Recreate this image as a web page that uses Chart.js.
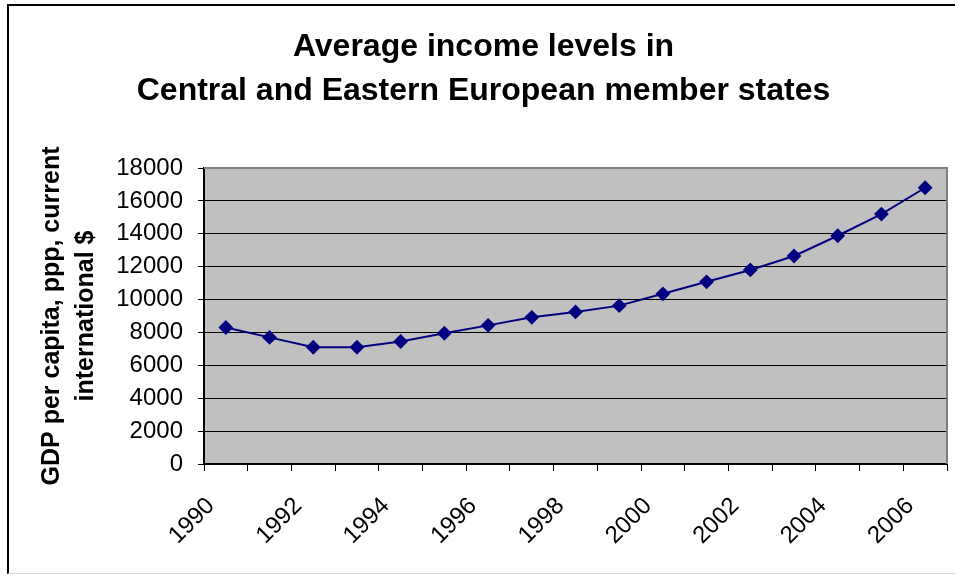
<!DOCTYPE html>
<html>
<head>
<meta charset="utf-8">
<script src="https://cdn.jsdelivr.net/npm/chart.js@4"></script>
<style>
  html, body { margin: 0; padding: 0; background: #fff; }
  #wrap { position: relative; width: 955px; height: 576px; }
  #frame { position: absolute; left: 7px; top: 4px; width: 960px; height: 570px;
           border-left: 2px solid #000; border-top: 2px solid #000; border-bottom: 1px solid #d8d8d8; box-sizing: border-box; }
  canvas { position: absolute; left: 0; top: 0; }
</style>
</head>
<body>
<div id="wrap">
  <div id="frame"></div>
  <canvas id="grafico" width="955" height="576"></canvas>
</div>
<script>
// Dados
const anos = ['1990', '1991', '1992', '1993', '1994', '1995', '1996', '1997', '1998',
  '1999', '2000', '2001', '2002', '2003', '2004', '2005', '2006'];
const rendaMedia = [8300, 7700, 7100, 7100, 7450, 7950, 8430, 8920, 9250,
  9630, 10350, 11080, 11800, 12650, 13880, 15200, 16800];
const tituloLinhas = ['Average income levels in', 'Central and Eastern European member states'];
const tituloEixoY = ['GDP per capita, ppp, current', 'international $'];

const FONTE = '"Liberation Sans", Arial, sans-serif';

// fundo cinza da área de plotagem + borda cinza em cima/direita (estilo Excel)
const areaCinza = {
  id: 'areaCinza',
  beforeDraw(chart) {
    const { ctx, chartArea: a } = chart;
    ctx.save();
    ctx.fillStyle = '#c0c0c0';
    ctx.fillRect(a.left, a.top, a.right - a.left, a.bottom - a.top);
    ctx.restore();
  },
  afterDraw(chart) {
    const { ctx, chartArea: a } = chart;
    ctx.save();
    ctx.strokeStyle = '#808080';
    ctx.lineWidth = 2;
    ctx.beginPath();
    ctx.moveTo(a.left, a.top);
    ctx.lineTo(a.right, a.top);
    ctx.lineTo(a.right, a.bottom);
    ctx.stroke();
    ctx.restore();
  },
};

new Chart(document.getElementById('grafico'), {
  type: 'line',
  data: {
    labels: anos,
    datasets: [{
      data: rendaMedia,
      borderColor: '#000080',
      backgroundColor: '#000080',
      borderWidth: 2,
      pointStyle: 'rectRot',
      pointRadius: 6,
      pointHoverRadius: 6,
      tension: 0,
    }],
  },
  options: {
    responsive: false,
    animation: false,
    layout: { padding: { left: 18, top: 4, right: 6, bottom: 0 } },
    plugins: {
      legend: { display: false },
      tooltip: { enabled: false },
      title: {
        display: true,
        text: tituloLinhas,
        color: '#000',
        font: { family: FONTE, size: 32, weight: 'bold', lineHeight: 1.375 },
        padding: { top: 21, bottom: 55 },
      },
    },
    scales: {
      x: {
        offset: true,
        // altura fixa e sem folga lateral, para a área de plotagem bater com o original
        afterFit: (s) => { s.height = 112; s.paddingLeft = 0; s.paddingRight = 0; },
        grid: { offset: true, drawOnChartArea: false, drawTicks: true, tickLength: 7, color: '#000', lineWidth: 1 },
        border: { color: '#000', width: 2 },
        ticks: {
          autoSkip: false,
          maxRotation: 45,
          minRotation: 45,
          padding: 21,
          labelOffset: -15,
          color: '#000',
          font: { family: FONTE, size: 24 },
          callback: (v, i) => (i % 2 === 0 ? anos[i] : ''),
        },
      },
      y: {
        min: 0,
        max: 18000,
        afterFit: (s) => { s.width = 186; },
        grid: { color: '#000', lineWidth: 1, drawTicks: true, tickLength: 6 },
        border: { color: '#000', width: 2 },
        ticks: {
          stepSize: 2000,
          padding: 15,
          color: '#000',
          font: { family: FONTE, size: 24 },
          callback: (v) => String(v),
        },
        title: {
          display: true,
          text: tituloEixoY,
          color: '#000',
          font: { family: FONTE, size: 25, weight: 'bold', lineHeight: 1.36 },
          padding: { top: 17, bottom: 0 },
        },
      },
    },
  },
  plugins: [areaCinza],
});
</script>
</body>
</html>
